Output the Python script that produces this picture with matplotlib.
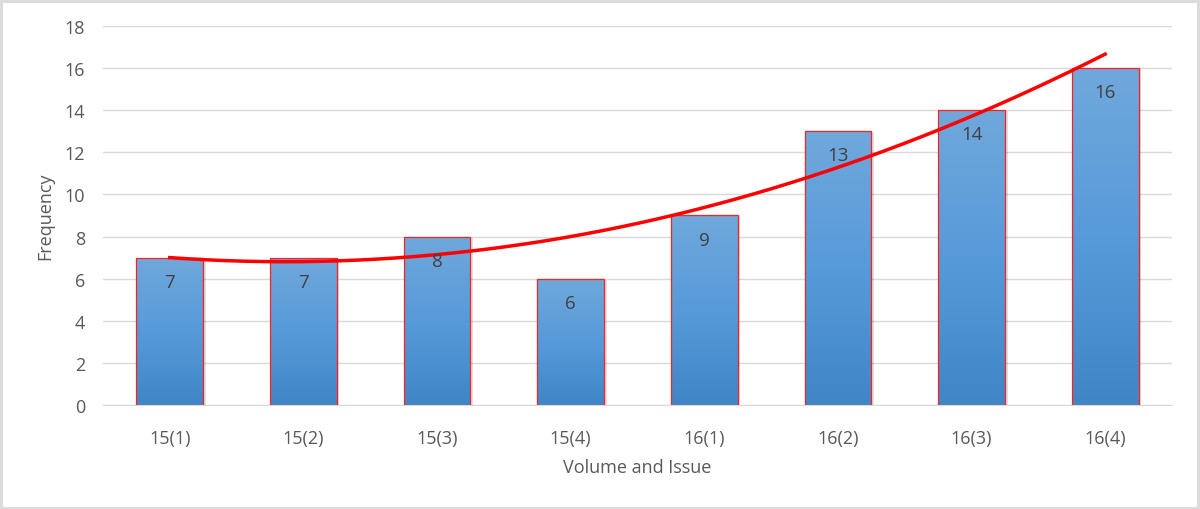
import numpy as np
import matplotlib.pyplot as plt
from matplotlib.patches import Rectangle
from matplotlib.colors import LinearSegmentedColormap

categories = ["15(1)", "15(2)", "15(3)", "15(4)", "16(1)", "16(2)", "16(3)", "16(4)"]
frequency = [7, 7, 8, 6, 9, 13, 14, 16]

plt.rcParams['font.family'] = ['Open Sans', 'DejaVu Sans']
txt = "#595959"

fig = plt.figure(figsize=(12, 5.1), dpi=100)
ax = fig.add_axes([0.0858, 0.204, 0.8909, 0.743])

x = np.arange(len(categories))
bars = ax.bar(x, frequency, width=0.5, color="none", edgecolor="#ff2020", linewidth=0.9, zorder=3)

# vertical gradient fill for each bar
grad = np.linspace(0, 1, 256).reshape(-1, 1)
cmap = LinearSegmentedColormap.from_list("bl", ["#3f86c6", "#579ad9", "#70a8dc"])
for b in bars:
    x0, w, h = b.get_x(), b.get_width(), b.get_height()
    # soft shadow
    ax.add_patch(Rectangle((x0 + 0.02, -0.05), w, h, color="#000000", alpha=0.12, zorder=1.5, lw=0))
    im = ax.imshow(grad, extent=[x0, x0 + w, 0, h], cmap=cmap, aspect="auto", origin="lower", zorder=2)
    im.set_clip_path(b)

for xi, v in zip(x, frequency):
    ax.text(xi, v - 1.15, str(v), ha="center", va="center", fontsize=13.5, color="#404040", zorder=6)

# second order polynomial trendline
coef = np.polyfit(x, frequency, 2)
xs = np.linspace(x[0], x[-1], 200)
ax.plot(xs, np.polyval(coef, xs), color="#ff0000", lw=2.5, zorder=5)

ax.set_xlim(-0.5, len(categories) - 0.5)
ax.set_ylim(0, 18)
ax.set_yticks(range(0, 19, 2))
ax.set_xticks(x)
ax.set_xticklabels(categories)
ax.grid(axis="y", color="#d9d9d9", lw=1, zorder=0)
ax.set_axisbelow(True)
for s in ["top", "right", "left"]:
    ax.spines[s].set_visible(False)
ax.spines["bottom"].set_color("#d9d9d9")
ax.tick_params(length=0, labelsize=13, colors=txt)
ax.tick_params(axis="x", pad=17)
ax.tick_params(axis="y", pad=13)
ax.set_xlabel("Volume and Issue", fontsize=13, color=txt, labelpad=8)
ax.set_ylabel("Frequency", fontsize=13, color=txt, labelpad=7)

fig.patches.append(Rectangle((0.001, 0.002), 0.997, 0.995, transform=fig.transFigure,
                             fill=False, edgecolor="#d9d9d9", lw=2))

plt.savefig("out.png", dpi=100)
